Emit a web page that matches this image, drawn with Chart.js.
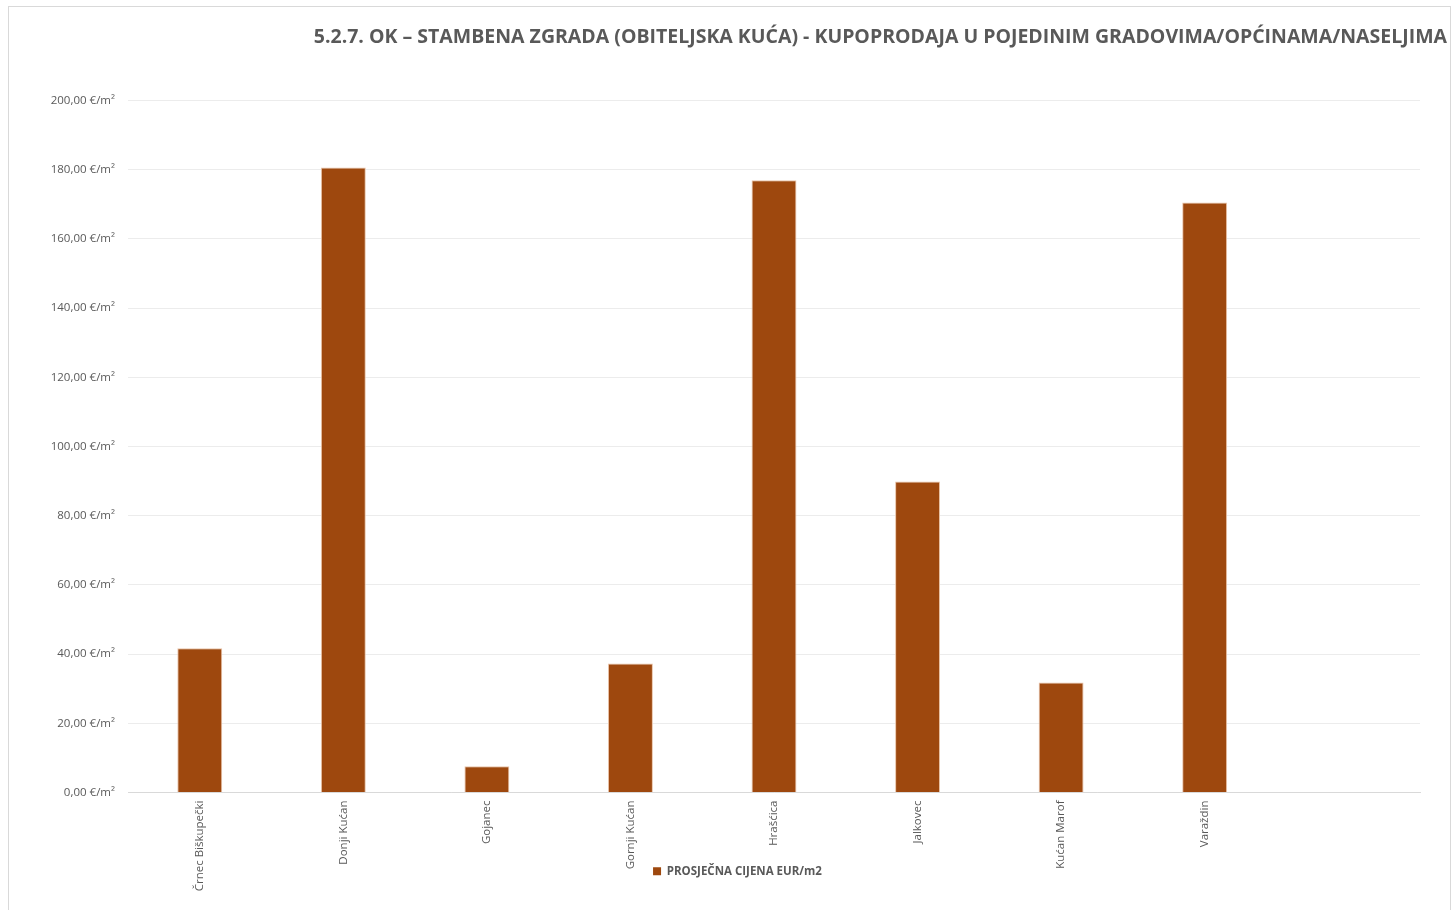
<!DOCTYPE html>
<html>
<head>
<meta charset="utf-8">
<title>5.2.7. OK – Stambena zgrada (obiteljska kuća)</title>
<script src="https://cdn.jsdelivr.net/npm/chart.js@4.4.0/dist/chart.umd.min.js"></script>
<style>
  html, body { margin: 0; padding: 0; background: #fff; overflow: hidden; }
  #frame { position: absolute; left: 8px; top: 6px; width: 1441px; height: 920px; border: 1px solid #d9d9d9; }
  #myChart { position: absolute; left: 0; top: 0; }
</style>
</head>
<body>
<div id="frame"></div>
<canvas id="myChart" width="1453" height="910"></canvas>
<script>
const categories = ['Črnec Biškupečki', 'Donji Kućan', 'Gojanec', 'Gornji Kućan', 'Hrašćica', 'Jalkovec', 'Kućan Marof', 'Varaždin', ''];
const prices = [41.7, 180.6, 7.6, 37.3, 176.9, 89.9, 31.8, 170.5, null];
const seriesName = 'PROSJEČNA CIJENA EUR/m2';
const chartTitle = '5.2.7. OK – STAMBENA ZGRADA (OBITELJSKA KUĆA) - KUPOPRODAJA U POJEDINIM GRADOVIMA/OPĆINAMA/NASELJIMA';

const textColor = '#595959';
const ctx = document.getElementById('myChart').getContext('2d');

// x labels are longer than the axis box (legend sits beside them), so stop them being clipped
const unclipLabels = {
    id: 'unclipLabels',
    afterLayout(c) {
        c.scales.x.bottom = c.height;
    }
};

let chart = new Chart(ctx, {
    type: 'bar',
    data: {
        labels: categories,
        datasets: [{
            label: seriesName,
            data: prices,
            backgroundColor: '#9e480e',
            borderColor: '#e9c3a8',
            borderWidth: 1,
            categoryPercentage: 1,
            barPercentage: 0.313
        }]
    },
    plugins: [unclipLabels],
    options: {
        responsive: false,
        animation: false,
        layout: { padding: { left: 28, right: 6, top: 0, bottom: 23 } },
        plugins: {
            title: {
                display: true,
                text: chartTitle,
                align: 'end',
                color: textColor,
                font: { family: 'Open Sans', size: 19.5, weight: 'bold' },
                padding: { top: 26, bottom: 51 }
            },
            legend: {
                position: 'bottom',
                labels: {
                    color: textColor,
                    font: { family: 'Open Sans', size: 11.5, weight: 'bold' },
                    boxWidth: 8,
                    boxHeight: 8,
                    padding: 10,
                    generateLabels: (c) => [{
                        text: seriesName,
                        fillStyle: '#9e480e',
                        strokeStyle: '#9e480e',
                        lineWidth: 0,
                        fontColor: textColor,
                        datasetIndex: 0
                    }]
                }
            },
            tooltip: { enabled: false }
        },
        scales: {
            x: {
                grid: { display: false },
                border: { display: true, color: '#d9d9d9', width: 1 },
                ticks: {
                    color: textColor,
                    font: { family: 'Open Sans', size: 11.5 },
                    minRotation: 90,
                    maxRotation: 90,
                    autoSkip: false,
                    padding: 0
                },
                afterFit: (scale) => { scale.height = 63; }
            },
            y: {
                min: 0,
                max: 200,
                ticks: {
                    stepSize: 20,
                    color: textColor,
                    font: { family: 'Open Sans', size: 11.5 },
                    padding: 13,
                    callback: (v) => v.toFixed(2).replace('.', ',') + ' €/m²'
                },
                grid: { color: '#ececec', drawTicks: false },
                border: { display: false },
                afterFit: (scale) => { scale.width = 100; }
            },
            yRight: {
                position: 'right',
                display: true,
                min: 0,
                max: 200,
                ticks: { display: false },
                grid: { display: false, drawTicks: false },
                border: { display: false },
                afterFit: (scale) => { scale.width = 27; }
            }
        }
    }
});
</script>
</body>
</html>
